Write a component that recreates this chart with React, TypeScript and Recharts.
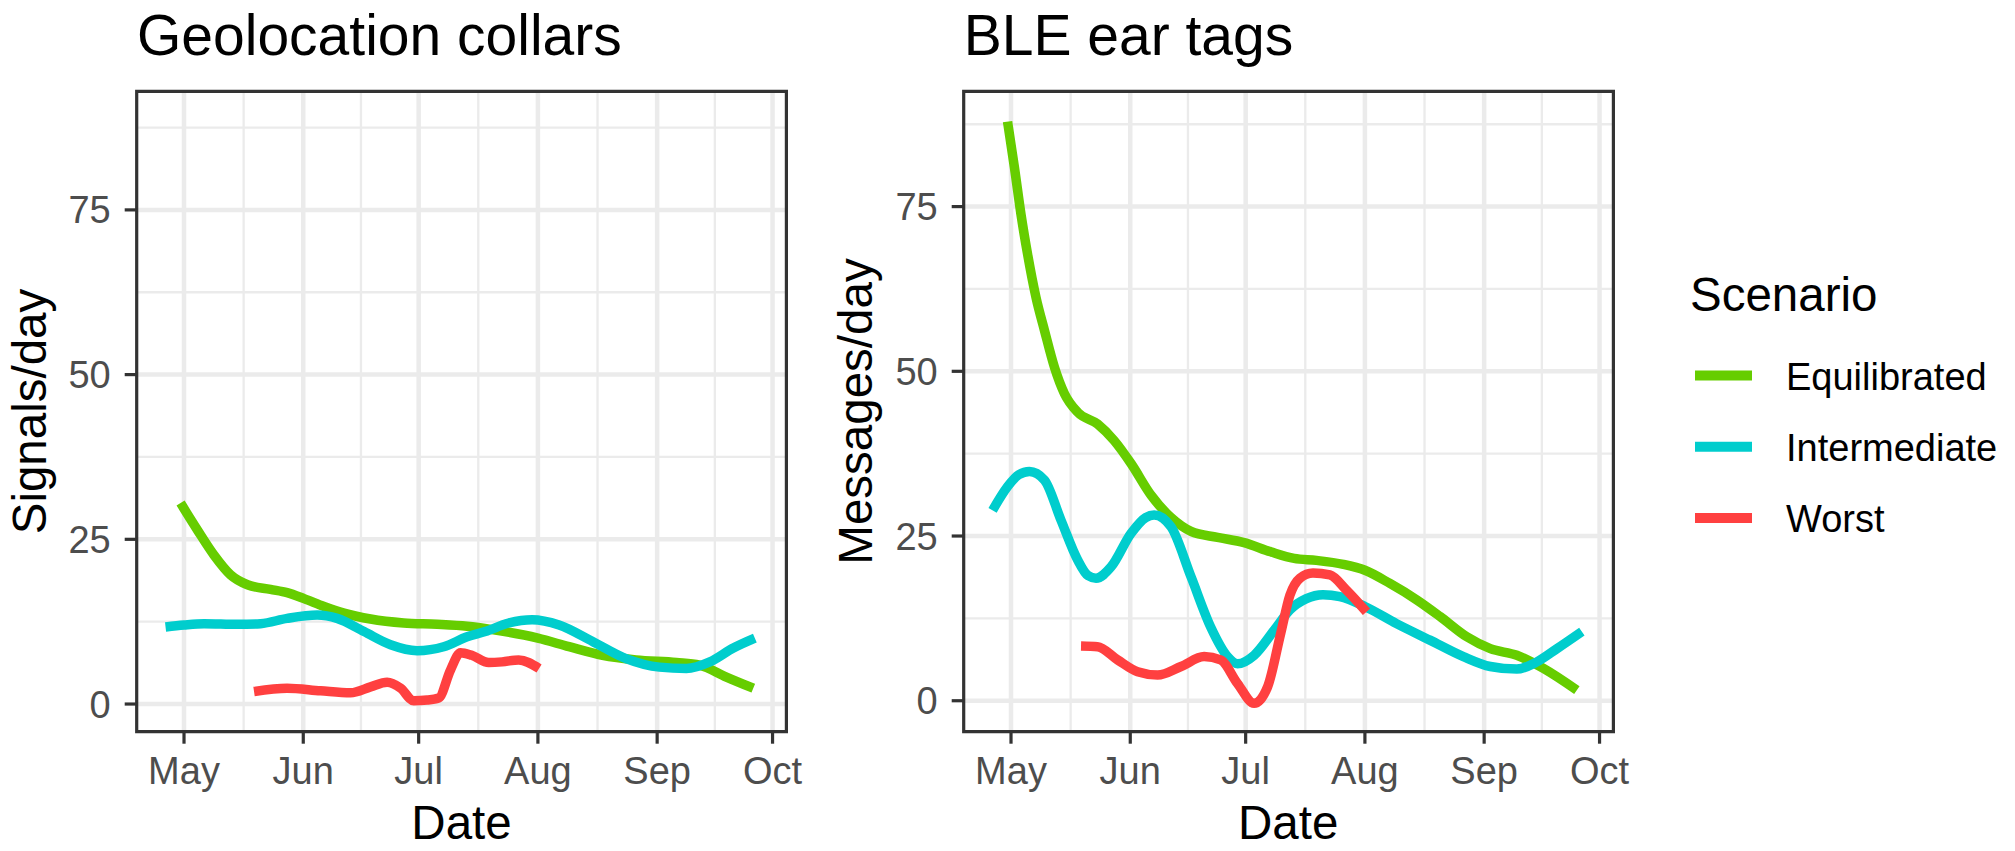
import {
  CartesianGrid,
  Line,
  LineChart,
  ReferenceArea,
  XAxis,
  YAxis
} from "recharts";

// x values are days counted from 1 May
const monthLabels = ["May", "Jun", "Jul", "Aug", "Sep", "Oct"];
const monthTicks = [0, 31, 61, 92, 123, 153];
const minorDays = [15.5, 46, 76.5, 107.5, 138];
const yTicks = [0, 25, 50, 75];
const minorY = [12.5, 37.5, 62.5, 87.5];

const scenarios = ["Equilibrated", "Intermediate", "Worst"];
const colors = ["#66CD00", "#00CDCD", "#FF4040"];

const geoEquilibrated = [
  { day: -0.9, v: 30.5 }, { day: 3.5, v: 26.4 }, { day: 7.8, v: 22.6 },
  { day: 12.1, v: 19.6 }, { day: 16.5, v: 18.1 }, { day: 22.5, v: 17.4 },
  { day: 26.8, v: 16.9 }, { day: 31.2, v: 16.0 }, { day: 36.4, v: 14.8 },
  { day: 41.6, v: 13.8 }, { day: 48.5, v: 12.9 }, { day: 57.1, v: 12.3 },
  { day: 65.8, v: 12.1 }, { day: 73.6, v: 11.8 }, { day: 80.1, v: 11.3 },
  { day: 92, v: 10.0 }, { day: 100.1, v: 8.7 }, { day: 108.8, v: 7.4 },
  { day: 117.5, v: 6.7 }, { day: 128, v: 6.3 }, { day: 134, v: 5.9 },
  { day: 141, v: 4.1 }, { day: 148, v: 2.4 }
];
const geoIntermediate = [
  { day: -4.8, v: 11.7 }, { day: 0, v: 12.0 }, { day: 5.2, v: 12.2 },
  { day: 13.9, v: 12.1 }, { day: 19.9, v: 12.2 }, { day: 26.8, v: 13.0 },
  { day: 34.6, v: 13.5 }, { day: 39.8, v: 13.0 }, { day: 46.8, v: 11.0 },
  { day: 53.7, v: 9.0 }, { day: 60.6, v: 8.1 }, { day: 67.5, v: 8.7 },
  { day: 73.6, v: 10.2 }, { day: 78.3, v: 11.0 }, { day: 84.4, v: 12.3 },
  { day: 90.5, v: 12.8 }, { day: 97.5, v: 12.0 }, { day: 106.2, v: 9.5 },
  { day: 114.9, v: 6.9 }, { day: 123.6, v: 5.6 }, { day: 130.6, v: 5.4 },
  { day: 136.7, v: 6.4 }, { day: 142.8, v: 8.5 }, { day: 148.4, v: 10.0 }
];
const geoWorst = [
  { day: 18.2, v: 1.9 }, { day: 26.8, v: 2.4 }, { day: 35.5, v: 2.0 },
  { day: 43.3, v: 1.7 }, { day: 48.5, v: 2.6 }, { day: 52.8, v: 3.3 },
  { day: 56.3, v: 2.4 }, { day: 59.7, v: 0.5 }, { day: 63.2, v: 0.6 },
  { day: 66.2, v: 0.9 }, { day: 69.3, v: 5.2 }, { day: 71.9, v: 7.8 },
  { day: 74.8, v: 7.4 }, { day: 79.2, v: 6.3 }, { day: 82.7, v: 6.4 },
  { day: 87, v: 6.7 }, { day: 92.3, v: 5.4 }
];

const bleEquilibrated = [
  { day: -0.9, v: 87.9 }, { day: 0.9, v: 80.9 }, { day: 2.6, v: 73.8 },
  { day: 4.3, v: 67.8 }, { day: 6.5, v: 61.2 }, { day: 8.7, v: 56.2 },
  { day: 11.3, v: 50.6 }, { day: 13.9, v: 46.6 }, { day: 17.3, v: 43.8 },
  { day: 22.5, v: 42.0 }, { day: 26.8, v: 39.5 }, { day: 31.2, v: 36.0 },
  { day: 36.4, v: 31.2 }, { day: 41.6, v: 27.8 }, { day: 46.8, v: 25.7 },
  { day: 53.7, v: 24.8 }, { day: 60.6, v: 24.0 }, { day: 67.5, v: 22.6 },
  { day: 73.6, v: 21.6 }, { day: 79.4, v: 21.3 }, { day: 86.4, v: 20.7 },
  { day: 92, v: 19.8 }, { day: 98.5, v: 17.8 }, { day: 105.5, v: 15.3 },
  { day: 111.5, v: 12.8 }, { day: 118.5, v: 9.7 }, { day: 124.6, v: 7.9 },
  { day: 131.5, v: 6.9 }, { day: 138.4, v: 4.9 }, { day: 147.1, v: 1.6 }
];
const bleIntermediate = [
  { day: -4.8, v: 28.9 }, { day: -0.9, v: 32.5 }, { day: 2, v: 34.3 },
  { day: 4.8, v: 34.8 }, { day: 8.7, v: 33.5 }, { day: 13.0, v: 27.4 },
  { day: 17.3, v: 21.4 }, { day: 20, v: 19.0 }, { day: 22.1, v: 18.6 },
  { day: 26.0, v: 20.3 }, { day: 31.2, v: 25.4 }, { day: 35, v: 27.8 },
  { day: 37.2, v: 28.2 }, { day: 41.6, v: 26.4 }, { day: 46.8, v: 18.8 },
  { day: 51.9, v: 11.2 }, { day: 56.3, v: 6.7 }, { day: 58.9, v: 5.6 },
  { day: 63.2, v: 6.9 }, { day: 68.4, v: 10.7 }, { day: 72.5, v: 13.8 },
  { day: 76.8, v: 15.5 }, { day: 81.1, v: 16.1 }, { day: 85.5, v: 15.8 },
  { day: 92, v: 14.3 }, { day: 100.2, v: 11.7 }, { day: 108.9, v: 9.2 },
  { day: 117.6, v: 6.7 }, { day: 124.6, v: 5.2 }, { day: 131.5, v: 4.8 },
  { day: 136.7, v: 5.9 }, { day: 141.9, v: 7.9 }, { day: 148.4, v: 10.5 }
];
const bleWorst = [
  { day: 18.2, v: 8.3 }, { day: 22.5, v: 8.2 }, { day: 27.7, v: 6.2 },
  { day: 32.9, v: 4.4 }, { day: 38.1, v: 3.9 }, { day: 44.2, v: 5.2 },
  { day: 50.2, v: 6.7 }, { day: 54.5, v: 6.2 }, { day: 58.9, v: 2.6 },
  { day: 63.2, v: -0.4 }, { day: 66.7, v: 2.1 }, { day: 70.1, v: 10.2 },
  { day: 72.5, v: 16.0 }, { day: 75.1, v: 18.6 }, { day: 78.5, v: 19.4 },
  { day: 82.9, v: 19.1 }, { day: 87.2, v: 16.8 }, { day: 92.4, v: 13.5 }
];

const FONT = '"Liberation Sans", Arial, sans-serif';
const xDomain = [-12.3, 156.6];
const geoYDomain = [-4.2, 93.0];
const bleYDomain = [-4.7, 92.5];

type Point = { day: number; v: number };

function Panel({
  left,
  yDomain,
  series
}: {
  left: number;
  yDomain: number[];
  series: Point[][];
}) {
  return (
    <div style={{ position: "absolute", left, top: 0 }}>
      <LineChart
        width={840}
        height={851}
        margin={{ top: 91.3, right: 53.6, bottom: 0, left: 0 }}
        style={{ fontFamily: FONT }}
      >
        <CartesianGrid
          horizontalValues={minorY}
          verticalValues={minorDays}
          stroke="#EBEBEB"
          strokeWidth={2.3}
        />
        <CartesianGrid
          horizontalValues={yTicks}
          verticalValues={monthTicks}
          stroke="#EBEBEB"
          strokeWidth={4.5}
        />
        <XAxis
          type="number"
          dataKey="day"
          domain={xDomain}
          ticks={monthTicks}
          interval={0}
          allowDataOverflow
          tickFormatter={(d) => monthLabels[monthTicks.indexOf(d)]}
          height={119.3}
          tickSize={12}
          tickMargin={13.3}
          axisLine={false}
          tickLine={{ stroke: "#333333", strokeWidth: 3.2 }}
          tick={{ fill: "#4D4D4D", fontSize: 38, fontFamily: FONT }}
        />
        <YAxis
          type="number"
          domain={yDomain}
          ticks={yTicks}
          interval={0}
          allowDataOverflow
          width={136.7}
          tickSize={12}
          tickMargin={14}
          axisLine={false}
          tickLine={{ stroke: "#333333", strokeWidth: 3.2 }}
          tick={{ fill: "#4D4D4D", fontSize: 38, fontFamily: FONT }}
        />
        <ReferenceArea
          x1={xDomain[0]}
          x2={xDomain[1]}
          y1={yDomain[0]}
          y2={yDomain[1]}
          fill="none"
          stroke="#333333"
          strokeWidth={3.2}
        />
        {series.map((data, i) => (
          <Line
            key={scenarios[i]}
            name={scenarios[i]}
            data={data}
            dataKey="v"
            type="monotone"
            stroke={colors[i]}
            strokeWidth={9.5}
            dot={false}
            activeDot={false}
            isAnimationActive={false}
          />
        ))}
      </LineChart>
    </div>
  );
}

export default function App() {
  const offset = 826.7;
  return (
    <div
      style={{
        position: "relative",
        width: 2015,
        height: 851,
        background: "#ffffff",
        fontFamily: FONT
      }}
    >
      <style>{"body{margin:0}"}</style>
      <Panel left={0} yDomain={geoYDomain} series={[geoEquilibrated, geoIntermediate, geoWorst]} />
      <Panel left={offset} yDomain={bleYDomain} series={[bleEquilibrated, bleIntermediate, bleWorst]} />
      <svg
        width={2015}
        height={851}
        style={{ position: "absolute", left: 0, top: 0, pointerEvents: "none" }}
        fontFamily={FONT}
      >
        <text x={137} y={54.5} fontSize={57} fill="#000">Geolocation collars</text>
        <text x={137 + offset} y={54.5} fontSize={57} fill="#000">BLE ear tags</text>
        <text
          transform="translate(45.6 411.5) rotate(-90)"
          textAnchor="middle"
          fontSize={47.5}
          fill="#000"
        >
          Signals/day
        </text>
        <text
          transform={`translate(${45.6 + offset} 411.5) rotate(-90)`}
          textAnchor="middle"
          fontSize={47.5}
          fill="#000"
        >
          Messages/day
        </text>
        <text x={461.5} y={839} textAnchor="middle" fontSize={47.5} fill="#000">Date</text>
        <text x={461.5 + offset} y={839} textAnchor="middle" fontSize={47.5} fill="#000">Date</text>
        <text x={1690} y={311} fontSize={47.5} fill="#000">Scenario</text>
        {scenarios.map((s, i) => (
          <g key={s}>
            <line
              x1={1695}
              x2={1752}
              y1={375.5 + i * 71.3}
              y2={375.5 + i * 71.3}
              stroke={colors[i]}
              strokeWidth={10}
            />
            <text x={1786} y={389.5 + i * 71.3} fontSize={38} fill="#000">{s}</text>
          </g>
        ))}
      </svg>
    </div>
  );
}
